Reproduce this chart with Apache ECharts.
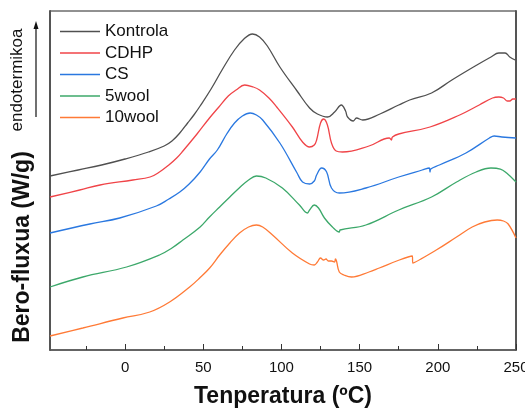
<!DOCTYPE html>
<html>
<head>
<meta charset="utf-8">
<script src="https://cdn.jsdelivr.net/npm/echarts@6/dist/echarts.min.js"></script>
<style>
  html, body { margin: 0; padding: 0; background: #fff; }
  #chart { width: 525px; height: 408px; }
</style>
</head>
<body>
<div id="chart"></div>
<script>
// DSC curves, heat flow (stacked offsets, arbitrary W/g units) vs temperature (ºC)
const seriesNames = ['Kontrola', 'CDHP', 'CS', '5wool', '10wool'];
const seriesColors = ['#505050', '#f04448', '#2a78e0', '#3ca86a', '#ff7a36'];

const kontrolaT = [-48, -30, -15, 0, 15, 25, 30, 35, 40, 44, 48, 55, 62, 70, 76, 81.5, 86, 91, 99, 110, 118, 123, 129.5, 134, 138.3, 141, 142.3, 146, 148, 152, 163, 175, 182, 196, 209, 225, 234, 239, 243, 246, 249.5];
const kontrolaHF = [17.4, 18.0, 18.5, 19.1, 19.8, 20.4, 20.9, 21.7, 22.7, 23.5, 24.4, 26.1, 28.0, 30.0, 31.1, 31.6, 31.3, 30.4, 28.3, 25.9, 24.2, 23.6, 23.3, 23.8, 24.5, 23.9, 23.3, 22.9, 23.2, 23.0, 23.6, 24.5, 25.0, 25.7, 27.0, 28.5, 29.3, 29.7, 29.7, 29.3, 29.0];

const cdhpT = [-48, -29, -16, 5, 16, 22, 28, 33, 37, 46, 54, 60, 66, 71, 76.5, 82, 86, 92, 97, 107, 113.5, 118, 121, 122.5, 125, 127, 129.4, 132, 135, 139, 156, 169, 170.3, 171, 175, 195, 214, 226.5, 235, 239, 242, 244.5, 246, 248, 250];
const cdhpHF = [15.3, 16.0, 16.5, 17.0, 17.3, 17.8, 18.5, 19.2, 19.9, 21.6, 23.2, 24.3, 25.4, 26.0, 26.5, 26.3, 26.0, 25.2, 24.3, 22.3, 20.8, 20.3, 20.5, 21.0, 22.7, 23.1, 22.5, 20.7, 19.9, 19.8, 20.4, 21.2, 21.0, 21.3, 21.6, 22.3, 23.5, 24.5, 25.2, 25.3, 25.2, 24.9, 24.9, 25.1, 25.1];

const csT = [-48, -22.5, -3.4, 20, 28, 35, 41, 48, 54, 59, 65, 70, 75, 80, 84, 88, 99, 110, 113.5, 118, 121, 122.5, 125.7, 128.9, 132, 137, 154, 175, 190, 194.6, 195, 195.5, 201, 218, 233, 236, 241, 250];
const csHF = [11.7, 12.6, 13.2, 14.4, 15.1, 15.8, 16.6, 17.8, 19.1, 20.0, 21.6, 22.7, 23.4, 23.7, 23.5, 23.0, 20.7, 17.7, 16.8, 16.6, 16.9, 17.5, 18.2, 17.8, 16.2, 15.7, 16.2, 17.3, 18.0, 18.2, 17.8, 18.1, 18.5, 19.7, 21.2, 21.4, 21.3, 21.2];

const wool5T = [-48, -27, 1, 22, 30, 37, 48, 54, 60.5, 67, 73, 79, 84, 90, 100.6, 111.5, 116.6, 118, 121, 123.7, 127.5, 132.6, 137, 137.5, 154, 175, 196, 212, 224.5, 234, 240, 244, 250];
const wool5HF = [6.3, 7.3, 8.3, 9.5, 10.2, 11.0, 12.3, 13.3, 14.3, 15.3, 16.2, 17.0, 17.4, 17.2, 16.2, 14.5, 13.7, 14.0, 14.5, 14.2, 13.2, 12.3, 11.8, 12.0, 12.5, 14.0, 15.3, 16.8, 17.8, 18.2, 18.1, 17.7, 16.8];

const wool10T = [-48, -27, -1.4, 15.8, 28.5, 41.3, 47.7, 54.1, 60.5, 67, 73.2, 79, 84, 88, 94.3, 107, 118, 121, 123, 125, 127, 128.5, 130, 132, 134, 134.5, 135.2, 137, 140, 144.8, 156, 162.6, 175.4, 183.7, 184, 199, 212, 222, 230, 238, 242, 245, 250];
const wool10HF = [1.4, 2.2, 3.2, 3.8, 4.8, 6.3, 7.2, 8.2, 9.5, 10.7, 11.7, 12.3, 12.5, 12.3, 11.5, 9.7, 8.6, 8.5, 8.8, 9.2, 9.0, 9.1, 8.9, 8.9, 8.8, 9.1, 8.9, 7.8, 7.5, 7.3, 7.8, 8.2, 9.0, 9.4, 8.7, 10.0, 11.3, 12.3, 12.8, 13.0, 12.9, 12.6, 11.2];

const majorTicks = [0, 50, 100, 150, 200, 250];
const minorTicks = [-25, 25, 75, 125, 175, 225];

const curves = [
  [kontrolaT, kontrolaHF],
  [cdhpT, cdhpHF],
  [csT, csHF],
  [wool5T, wool5HF],
  [wool10T, wool10HF]
];

const FONT = "'Liberation Sans', Arial, sans-serif";
const X_MIN = -48, X_MAX = 250;

const chart = echarts.init(document.getElementById('chart'), null, { renderer: 'canvas' });

chart.setOption({
  animation: false,
  backgroundColor: '#ffffff',
  grid: {
    left: 50, right: 9, top: 11, bottom: 58,
    outerBoundsMode: 'none',
    containLabel: false,
    show: true, borderColor: '#222', borderWidth: 1
  },
  legend: {
    data: seriesNames,
    orient: 'vertical',
    left: 60, top: 23,
    padding: 0,
    icon: 'rect',
    itemWidth: 40, itemHeight: 1.5, itemGap: 4.5,
    textStyle: { fontFamily: FONT, fontSize: 17, color: '#111' }
  },
  xAxis: [
    {
      type: 'value', min: X_MIN, max: X_MAX,
      name: 'Tenperatura (ºC)', nameLocation: 'middle', nameGap: 35,
      nameTextStyle: { fontFamily: FONT, fontSize: 23, fontWeight: 'bold', color: '#111' },
      axisLine: { show: true, onZero: false, lineStyle: { color: '#555', width: 1.5 } },
      axisTick: { show: true, inside: true, length: 6, customValues: majorTicks, lineStyle: { color: '#333', width: 1 } },
      axisLabel: { customValues: majorTicks, fontFamily: FONT, fontSize: 15, color: '#111', margin: 10 },
      splitLine: { show: false }
    },
    {
      type: 'value', min: X_MIN, max: X_MAX, position: 'bottom', offset: 0,
      axisLine: { show: false, onZero: false },
      axisTick: { show: true, inside: true, length: 4, customValues: minorTicks, lineStyle: { color: '#333', width: 1 } },
      axisLabel: { show: false },
      splitLine: { show: false }
    }
  ],
  yAxis: [
    {
      type: 'value', min: 0, max: 33.9,
      axisLine: { show: true, onZero: false, lineStyle: { color: '#555', width: 2 } },
      axisTick: { show: false }, axisLabel: { show: false }, splitLine: { show: false }
    },
    {
      type: 'value', min: 0, max: 33.9, position: 'right',
      axisLine: { show: true, onZero: false, lineStyle: { color: '#555', width: 2 } },
      axisTick: { show: false }, axisLabel: { show: false }, splitLine: { show: false }
    }
  ],
  series: curves.map(([t, hf], i) => ({
    name: seriesNames[i],
    type: 'line',
    xAxisIndex: 0, yAxisIndex: 0,
    data: t.map((v, k) => [v, hf[k]]),
    showSymbol: false, symbol: 'none',
    smooth: 0.4,
    lineStyle: { color: seriesColors[i], width: 1.3 },
    itemStyle: { color: seriesColors[i] }
  })),
  graphic: [
    {
      type: 'text', x: 23, y: 247, rotation: Math.PI / 2,
      style: {
        text: 'Bero-fluxua (W/g)', font: "bold 23px 'Liberation Sans', Arial, sans-serif",
        fill: '#111', align: 'center', verticalAlign: 'middle'
      }
    },
    {
      type: 'text', x: 17, y: 80, rotation: Math.PI / 2,
      style: {
        text: 'endotermikoa', font: "17px 'Liberation Sans', Arial, sans-serif",
        fill: '#111', align: 'center', verticalAlign: 'middle'
      }
    },
    {
      type: 'line', shape: { x1: 36, y1: 117, x2: 36, y2: 26 },
      style: { stroke: '#111', lineWidth: 1.2 }
    },
    {
      type: 'polygon', shape: { points: [[36, 21], [33.5, 29], [38.5, 29]] },
      style: { fill: '#111' }
    }
  ]
});
</script>
</body>
</html>
